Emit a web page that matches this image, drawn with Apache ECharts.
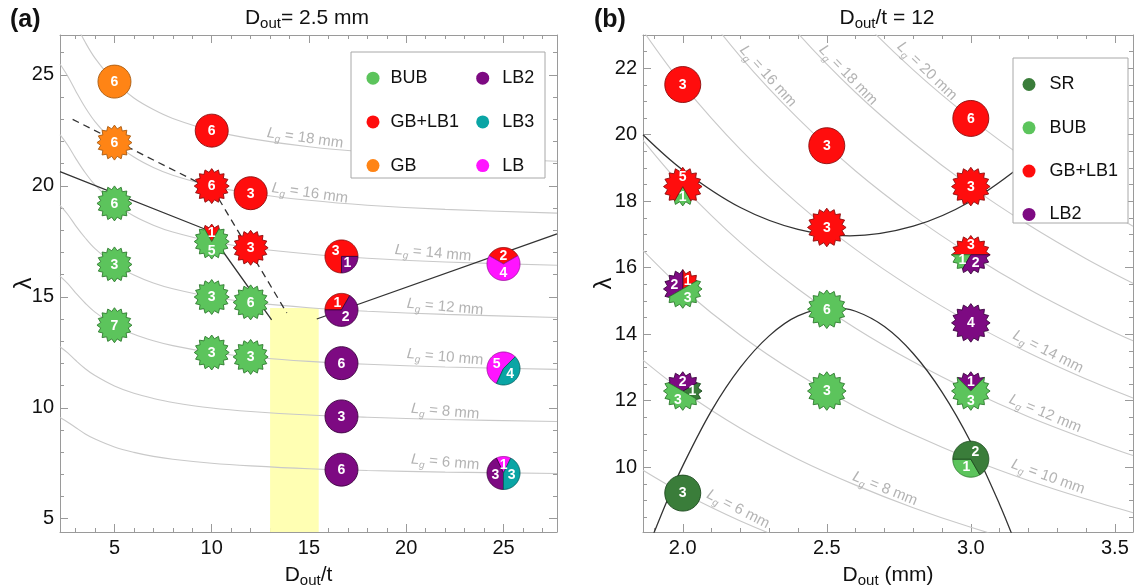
<!DOCTYPE html>
<html><head><meta charset="utf-8">
<script src="https://cdn.jsdelivr.net/npm/echarts@6/dist/echarts.min.js"></script>
<style>html,body{margin:0;padding:0;background:#fff}#c{width:1137px;height:587px}</style>
</head><body><div id="c"></div>
<script>
// ================= DATA =================
// Panel (a): D_out = 2.5 mm, x = D_out/t
const aXMajor = [5, 10, 15, 20, 25];
const aYMajor = [5, 10, 15, 20, 25];
const aCurveX = [2.2, 2.6, 3, 3.5, 4, 5, 6, 7, 8, 10, 12, 15, 18, 22, 27.75];
const aCurveLg = [6, 8, 10, 12, 14, 16, 18];
const aCurveLg6  = [9.56, 9.35, 9.11, 8.82, 8.59, 8.23, 7.99, 7.81, 7.68, 7.50, 7.38, 7.25, 7.17, 7.10, 7.04];
const aCurveLg8  = [12.75, 12.47, 12.14, 11.76, 11.45, 10.98, 10.65, 10.42, 10.24, 9.99, 9.83, 9.67, 9.57, 9.47, 9.38];
const aCurveLg10 = [15.93, 15.59, 15.18, 14.71, 14.31, 13.72, 13.31, 13.02, 12.80, 12.49, 12.29, 12.09, 11.96, 11.84, 11.73];
const aCurveLg12 = [19.12, 18.71, 18.21, 17.65, 17.17, 16.46, 15.98, 15.62, 15.36, 14.99, 14.75, 14.51, 14.35, 14.21, 14.07];
const aCurveLg14 = [22.31, 21.83, 21.25, 20.59, 20.04, 19.21, 18.64, 18.23, 17.92, 17.49, 17.21, 16.93, 16.74, 16.57, 16.42];
const aCurveLg16 = [25.49, 24.94, 24.29, 23.53, 22.90, 21.95, 21.30, 20.83, 20.48, 19.99, 19.67, 19.35, 19.13, 18.94, 18.77];
const aCurveLg18 = [28.68, 28.06, 27.32, 26.47, 25.76, 24.70, 23.96, 23.44, 23.04, 22.49, 22.13, 21.76, 21.52, 21.31, 21.11];
const aBoundarySolid1 = [[2.2, 20.64], [9.8, 18.0], [13.08, 13.96]];
const aBoundarySolid2 = [[15.4, 14.0], [27.75, 17.84]];
const aBoundaryDashed = [[2.85, 23.0], [10.1, 19.8], [13.86, 14.27]];
const aShadeX = [13, 15.5];
const aShadeTop = 14.5;
// markers: [x, lambda, shape, categories, counts]
const aMarkers = [
  [5, 24.70, 'circle', ['GB'], [6]],
  [5, 21.95, 'star', ['GB'], [6]],
  [5, 19.21, 'star', ['BUB'], [6]],
  [5, 16.46, 'star', ['BUB'], [3]],
  [5, 13.72, 'star', ['BUB'], [7]],
  [10, 22.49, 'circle', ['GB+LB1'], [6]],
  [10, 19.99, 'star', ['GB+LB1'], [6]],
  [10, 17.49, 'star', ['GB+LB1', 'BUB'], [1, 5]],
  [10, 14.99, 'star', ['BUB'], [3]],
  [10, 12.49, 'star', ['BUB'], [3]],
  [12, 19.67, 'circle', ['GB+LB1'], [3]],
  [12, 17.21, 'star', ['GB+LB1'], [3]],
  [12, 14.75, 'star', ['BUB'], [6]],
  [12, 12.29, 'star', ['BUB'], [3]],
  [16.67, 16.82, 'circle', ['GB+LB1', 'LB2'], [3, 1]],
  [16.67, 14.41, 'circle', ['GB+LB1', 'LB2'], [1, 2]],
  [16.67, 12.01, 'circle', ['LB2'], [6]],
  [16.67, 9.61, 'circle', ['LB2'], [3]],
  [16.67, 7.21, 'circle', ['LB2'], [6]],
  [25, 16.48, 'circle', ['GB+LB1', 'LB'], [2, 4]],
  [25, 11.77, 'circle', ['LB', 'LB3'], [5, 4]],
  [25, 7.06, 'circle', ['LB', 'LB2', 'LB3'], [1, 3, 3]]
];
const aLgLabelPos = [[22.0, 7.54], [22.0, 9.83], [22.0, 12.28], [22.0, 14.54], [21.38, 16.97], [15.05, 19.67], [14.8, 22.15]];
const aLgLabelVal = ['6', '8', '10', '12', '14', '16', '18'];
const aLegendCol1 = ['BUB', 'GB+LB1', 'GB'];
const aLegendCol2 = ['LB2', 'LB3', 'LB'];

// Panel (b): D_out/t = 12, x = D_out (mm)
const bXMajor = [2.0, 2.5, 3.0, 3.5];
const bYMajor = [10, 12, 14, 16, 18, 20, 22];
const bCurveX = [1.862, 2.0, 2.2, 2.4, 2.6, 2.8, 3.0, 3.2, 3.4, 3.563];
const bCurveLg = [6, 8, 10, 12, 14, 16, 18, 20];
const bCurveLg6  = [9.91, 9.22, 8.38, 7.68, 7.09, 6.59, 6.15, 5.76, 5.42, 5.18];
const bCurveLg8  = [13.22, 12.29, 11.17, 10.24, 9.46, 8.78, 8.19, 7.68, 7.23, 6.90];
const bCurveLg10 = [16.52, 15.36, 13.97, 12.80, 11.82, 10.98, 10.24, 9.60, 9.04, 8.63];
const bCurveLg12 = [19.83, 18.44, 16.76, 15.36, 14.18, 13.17, 12.29, 11.52, 10.85, 10.35];
const bCurveLg14 = [23.13, 21.51, 19.56, 17.93, 16.55, 15.37, 14.34, 13.44, 12.65, 12.08];
const bCurveLg16 = [26.43, 24.58, 22.35, 20.49, 18.91, 17.56, 16.39, 15.36, 14.46, 13.80];
const bCurveLg18 = [29.74, 27.66, 25.14, 23.05, 21.27, 19.76, 18.44, 17.29, 16.27, 15.53];
const bCurveLg20 = [33.04, 30.73, 27.94, 25.61, 23.64, 21.95, 20.49, 19.21, 18.08, 17.25];
const bUpperX = [1.862, 2.0, 2.2, 2.4, 2.58, 2.8, 3.0, 3.2];
const bUpperY = [20.00, 18.94, 17.81, 17.15, 16.96, 17.25, 18.00, 19.23];
const bLowerX = [1.88, 1.95, 2.0, 2.1, 2.2, 2.3, 2.4, 2.52, 2.6, 2.7, 2.8, 2.9, 3.0, 3.1, 3.16];
const bLowerY = [7.59, 9.08, 10.04, 11.70, 13.00, 13.95, 14.55, 14.80, 14.69, 14.23, 13.42, 12.26, 10.75, 8.88, 7.59];
const bMarkers = [
  [2.0, 21.51, 'circle', ['GB+LB1'], [3]],
  [2.0, 18.44, 'star', ['BUB', 'GB+LB1'], [1, 5]],
  [2.0, 15.36, 'star', ['GB+LB1', 'LB2', 'BUB'], [1, 2, 3]],
  [2.0, 12.29, 'star', ['SR', 'LB2', 'BUB'], [1, 2, 3]],
  [2.0, 9.22, 'circle', ['SR'], [3]],
  [2.5, 19.67, 'circle', ['GB+LB1'], [3]],
  [2.5, 17.21, 'star', ['GB+LB1'], [3]],
  [2.5, 14.75, 'star', ['BUB'], [6]],
  [2.5, 12.29, 'star', ['BUB'], [3]],
  [3.0, 20.49, 'circle', ['GB+LB1'], [6]],
  [3.0, 18.44, 'star', ['GB+LB1'], [3]],
  [3.0, 16.39, 'star', ['GB+LB1', 'BUB', 'LB2'], [3, 1, 2]],
  [3.0, 14.34, 'star', ['LB2'], [4]],
  [3.0, 12.29, 'star', ['LB2', 'BUB'], [1, 3]],
  [3.0, 10.24, 'circle', ['BUB', 'SR'], [1, 2]]
];
const bLgLabelPos = [[2.192, 8.74], [2.702, 9.35], [3.268, 9.71], [3.258, 11.61], [3.268, 13.47], [2.296, 21.76], [2.574, 21.79], [2.848, 21.91]];
const bLgLabelVal = ['6', '8', '10', '12', '14', '16', '18', '20'];
const bLegendItems = ['SR', 'BUB', 'GB+LB1', 'LB2'];

// ================= STYLE =================
const FONT = '"Liberation Sans", Arial, Helvetica, sans-serif';
const catColor = {'BUB': '#5cc45c', 'GB+LB1': '#ff0d0d', 'GB': '#ff8415', 'LB2': '#7d0a82', 'LB3': '#0aa5a5', 'LB': '#ff14ff', 'SR': '#3a7d3a'};
const catEdge = {'BUB': '#2f7a2f', 'GB+LB1': '#8c0c0c', 'GB': '#a85a10', 'LB2': '#3c0440', 'LB3': '#066060', 'LB': '#a010a0', 'SR': '#1d4a1f'};
const aMarkerStart = [0, 0, 0, 0, 0, 0, 0, 60, 0, 0, 0, 0, 0, 0, 0, 60, 0, 0, 0, 30, 45, 64];
const bMarkerStart = [0, 240, 30, -30, 0, 0, 0, 0, 0, 0, 0, 0, 0, 45, 180];
const aLgLabelRot = [-5, -5, -5, -5, -5, -8, -8];
const bLgLabelRot = [-27, -22, -20, -23, -27, -48, -46, -44];
const aSize = {circR: 16.5, starR: 17.5, starRi: 14.0, font: 14};
const bSize = {circR: 18, starR: 19.3, starRi: 15.5, font: 14};
const AX = '#9a9a9a';
const CURVE = '#c9c9c9';
const LBL = '#a0a0a0';

// ================= HELPERS =================
function minorList(lo, hi, step, majors) {
  const out = [];
  for (let v = lo; v <= hi + 1e-9; v += step) {
    const r = Math.round(v * 100) / 100;
    if (!majors.some(m => Math.abs(m - r) < 1e-6)) out.push(r);
  }
  return out;
}
const subRich = {
  m: {fontSize: 21, color: '#111', lineHeight: 26, fontFamily: FONT, fontWeight: 'normal'},
  s: {fontSize: 15, color: '#111', lineHeight: 12, verticalAlign: 'bottom', fontFamily: FONT, fontWeight: 'normal'}
};
function makeXAxes(gi, min, max, majors, minors, fmt, name, nameGap) {
  const base = {gridIndex: gi, type: 'value', min: min, max: max, splitLine: {show: false}};
  return [
    Object.assign({}, base, {position: 'bottom',
      axisLine: {show: true, onZero: false, lineStyle: {color: AX, width: 1}},
      axisTick: {show: true, inside: true, length: 8, customValues: majors, lineStyle: {color: AX}},
      axisLabel: {show: true, customValues: majors, formatter: fmt, fontSize: 20, color: '#111', margin: 6, fontFamily: FONT},
      name: name, nameLocation: 'middle', nameGap: nameGap, nameMoveOverlap: false,
      nameTextStyle: {fontFamily: FONT, color: '#111', rich: subRich}}),
    Object.assign({}, base, {position: 'bottom',
      axisLine: {show: false, onZero: false},
      axisTick: {show: true, inside: true, length: 4, customValues: minors, lineStyle: {color: AX}},
      axisLabel: {show: false}}),
    Object.assign({}, base, {position: 'top',
      axisLine: {show: true, onZero: false, lineStyle: {color: AX, width: 1}},
      axisTick: {show: true, inside: true, length: 8, customValues: majors, lineStyle: {color: AX}},
      axisLabel: {show: false}}),
    Object.assign({}, base, {position: 'top',
      axisLine: {show: false, onZero: false},
      axisTick: {show: true, inside: true, length: 4, customValues: minors, lineStyle: {color: AX}},
      axisLabel: {show: false}})
  ];
}
function makeYAxes(gi, min, max, majors, minors, nameGap) {
  const base = {gridIndex: gi, type: 'value', min: min, max: max, splitLine: {show: false}};
  return [
    Object.assign({}, base, {position: 'left',
      axisLine: {show: true, onZero: false, lineStyle: {color: AX, width: 1}},
      axisTick: {show: true, inside: true, length: 8, customValues: majors, lineStyle: {color: AX}},
      axisLabel: {show: true, customValues: majors, fontSize: 20, color: '#111', margin: 6, fontFamily: FONT},
      name: 'λ', nameLocation: 'middle', nameGap: nameGap, nameMoveOverlap: false,
      nameTextStyle: {fontSize: 24, color: '#111', fontFamily: FONT}}),
    Object.assign({}, base, {position: 'left',
      axisLine: {show: false, onZero: false},
      axisTick: {show: true, inside: true, length: 4, customValues: minors, lineStyle: {color: AX}},
      axisLabel: {show: false}}),
    Object.assign({}, base, {position: 'right',
      axisLine: {show: true, onZero: false, lineStyle: {color: AX, width: 1}},
      axisTick: {show: true, inside: true, length: 8, customValues: majors, lineStyle: {color: AX}},
      axisLabel: {show: false}}),
    Object.assign({}, base, {position: 'right',
      axisLine: {show: false, onZero: false},
      axisTick: {show: true, inside: true, length: 4, customValues: minors, lineStyle: {color: AX}},
      axisLabel: {show: false}})
  ];
}
function curveSeries(xs, ys, xi, yi) {
  return {type: 'line', xAxisIndex: xi, yAxisIndex: yi, data: xs.map((x, i) => [x, ys[i]]),
    smooth: 0.35, showSymbol: false, symbol: 'none', silent: true, z: 2, clip: true,
    lineStyle: {color: CURVE, width: 1.1}};
}
function blackSeries(pts, xi, yi, dashed, smooth) {
  return {type: 'line', xAxisIndex: xi, yAxisIndex: yi, data: pts, smooth: smooth ? 0.35 : false,
    showSymbol: false, symbol: 'none', silent: true, z: 3, clip: true,
    lineStyle: {color: '#333', width: 1.3, type: dashed ? [7, 5] : 'solid'}};
}
function labelSeries(pos, vals, rots, xi, yi) {
  return {type: 'scatter', xAxisIndex: xi, yAxisIndex: yi, symbolSize: 0, silent: true, z: 4,
    itemStyle: {color: 'rgba(0,0,0,0)'},
    data: pos.map((p, i) => ({value: [p[0], p[1]], label: {rotate: rots[i]}})),
    label: {show: true, position: 'inside', color: LBL,
      formatter: p => '{i|L}{s|g}{t| = ' + vals[p.dataIndex] + ' mm}',
      rich: {
        i: {fontSize: 15, fontStyle: 'italic', color: LBL, lineHeight: 20, fontFamily: FONT},
        s: {fontSize: 10, fontStyle: 'italic', color: LBL, lineHeight: 10, verticalAlign: 'bottom', fontFamily: FONT},
        t: {fontSize: 15, color: LBL, lineHeight: 20, fontFamily: FONT}}}};
}
function markerSeries(markers, starts, sz, xi, yi) {
  const N = 16, phi0 = Math.PI / 2, step = Math.PI / N;
  return {
    type: 'custom', xAxisIndex: xi, yAxisIndex: yi, z: 5, silent: true,
    data: markers.map(m => [m[0], m[1]]),
    encode: {x: 0, y: 1},
    renderItem: function (params, api) {
      const m = markers[params.dataIndex];
      const c = api.coord([api.value(0), api.value(1)]);
      const shape = m[2], cats = m[3], counts = m[4];
      const isStar = shape === 'star';
      const R = isStar ? sz.starR : sz.circR, Ri = sz.starRi;
      const total = counts.reduce((a, b) => a + b, 0);
      const pt = (t, r) => [c[0] + r * Math.cos(t), c[1] - r * Math.sin(t)];
      const vertR = k => ((((k % 2) + 2) % 2) === 0 ? R : Ri);
      function boundary(theta) {
        if (!isStar) return pt(theta, R);
        const k = Math.floor((theta - phi0) / step);
        const a = phi0 + k * step, b = a + step;
        const ra = vertR(k), rb = vertR(k + 1);
        const A = [ra * Math.cos(a), ra * Math.sin(a)], B = [rb * Math.cos(b), rb * Math.sin(b)];
        const d = [Math.cos(theta), Math.sin(theta)];
        const BA = [B[0] - A[0], B[1] - A[1]];
        const cr = (u, v) => u[0] * v[1] - u[1] * v[0];
        const s = cr(A, d) / cr(d, BA);
        const P = [A[0] + s * BA[0], A[1] + s * BA[1]];
        return [c[0] + P[0], c[1] - P[1]];
      }
      function inner(t1, t2) {
        const pts = [];
        if (!isStar) {
          const n = Math.max(2, Math.ceil((t2 - t1) / (Math.PI / 90)));
          for (let j = 1; j < n; j++) pts.push(pt(t1 + (t2 - t1) * j / n, R));
          return pts;
        }
        let k = Math.floor((t1 - phi0) / step);
        for (; ; k++) {
          const a = phi0 + k * step;
          if (a >= t2 - 1e-9) break;
          if (a <= t1 + 1e-9) continue;
          pts.push(pt(a, vertR(k)));
        }
        return pts;
      }
      const children = [];
      const texts = [];
      const fontStr = 'bold ' + sz.font + 'px ' + FONT;
      if (cats.length === 1) {
        const col = catColor[cats[0]], edge = catEdge[cats[0]];
        if (isStar) {
          const pts = [];
          for (let k = 0; k < 2 * N; k++) pts.push(pt(phi0 + k * step, vertR(k)));
          children.push({type: 'polygon', shape: {points: pts}, style: {fill: col, stroke: edge, lineWidth: 0.9}});
        } else {
          children.push({type: 'circle', shape: {cx: c[0], cy: c[1], r: R}, style: {fill: col, stroke: edge, lineWidth: 0.9}});
        }
        texts.push({type: 'text', x: c[0], y: c[1] + 0.5, style: {text: String(counts[0]), fill: '#fff', font: fontStr, align: 'center', verticalAlign: 'middle'}});
      } else {
        let t = starts[params.dataIndex] * Math.PI / 180;
        cats.forEach((cat, j) => {
          const span = 2 * Math.PI * counts[j] / total;
          const t1 = t, t2 = t + span;
          const pts = [[c[0], c[1]], boundary(t1)].concat(inner(t1, t2), [boundary(t2)]);
          children.push({type: 'polygon', shape: {points: pts}, style: {fill: catColor[cat], stroke: catEdge[cat], lineWidth: 0.9}});
          const mid = (t1 + t2) / 2;
          const lp = pt(mid, R * 0.5);
          texts.push({type: 'text', x: lp[0], y: lp[1] + 0.5, style: {text: String(counts[j]), fill: '#fff', font: fontStr, align: 'center', verticalAlign: 'middle'}});
          t = t2;
        });
      }
      return {type: 'group', children: children.concat(texts)};
    }
  };
}

// ================= BUILD =================
const aXMinor = minorList(3, 27, 1, aXMajor);
const aYMinor = minorList(5, 26, 1, aYMajor);
const bXMinor = minorList(1.9, 3.5, 0.1, bXMajor);
const bYMinor = minorList(8.5, 23, 0.5, bYMajor);

const xAxes = makeXAxes(0, 2.2, 27.75, aXMajor, aXMinor, v => String(v), '{m|D}{s|out}{m|/t}', 30)
  .concat(makeXAxes(1, 1.862, 3.563, bXMajor, bXMinor, v => v.toFixed(1), '{m|D}{s|out}{m| (mm)}', 30));
const yAxes = makeYAxes(0, 4.4, 26.8, aYMajor, aYMinor, 24)
  .concat(makeYAxes(1, 8.05, 23.0, bYMajor, bYMinor, 27));

const series = [];
// yellow band (panel a)
series.push({type: 'line', xAxisIndex: 0, yAxisIndex: 0, data: [], silent: true, z: 1,
  markArea: {silent: true, itemStyle: {color: '#ffffb3', opacity: 1},
    data: [[{xAxis: aShadeX[0], yAxis: 4.4}, {xAxis: aShadeX[1], yAxis: aShadeTop}]]}});
[aCurveLg6, aCurveLg8, aCurveLg10, aCurveLg12, aCurveLg14, aCurveLg16, aCurveLg18].forEach(ys => series.push(curveSeries(aCurveX, ys, 0, 0)));
[bCurveLg6, bCurveLg8, bCurveLg10, bCurveLg12, bCurveLg14, bCurveLg16, bCurveLg18, bCurveLg20].forEach(ys => series.push(curveSeries(bCurveX, ys, 4, 4)));
series.push(blackSeries(aBoundarySolid1, 0, 0, false, false));
series.push(blackSeries(aBoundarySolid2, 0, 0, false, false));
series.push(blackSeries(aBoundaryDashed, 0, 0, true, false));
series.push(blackSeries(bUpperX.map((x, i) => [x, bUpperY[i]]), 4, 4, false, true));
series.push(blackSeries(bLowerX.map((x, i) => [x, bLowerY[i]]), 4, 4, false, true));
series.push(labelSeries(aLgLabelPos, aLgLabelVal, aLgLabelRot, 0, 0));
series.push(labelSeries(bLgLabelPos, bLgLabelVal, bLgLabelRot, 4, 4));
series.push(markerSeries(aMarkers, aMarkerStart, aSize, 0, 0));
series.push(markerSeries(bMarkers, bMarkerStart, bSize, 4, 4));
['SR', 'BUB', 'GB+LB1', 'GB', 'LB2', 'LB3', 'LB'].forEach(n => series.push({
  type: 'scatter', name: n, xAxisIndex: 0, yAxisIndex: 0, data: [], itemStyle: {color: catColor[n], opacity: 1}}));

const legendBase = {orient: 'vertical', padding: 0, itemWidth: 13, itemHeight: 13, icon: 'circle',
  selectedMode: false, z: 20, zlevel: 0, itemStyle: {opacity: 1}};
const option = {
  animation: false,
  backgroundColor: '#fff',
  textStyle: {fontFamily: FONT},
  title: [
    {text: '(a)', left: 10, top: 8, padding: 0, textStyle: {fontSize: 25, fontWeight: 'bold', color: '#111', fontFamily: FONT}},
    {text: '{m|D}{s|out}{m|= 2.5 mm}', left: 307, top: 5, padding: 0, textAlign: 'center',
      textStyle: {fontWeight: 'normal', rich: subRich}},
    {text: '(b)', left: 594, top: 8, padding: 0, textStyle: {fontSize: 25, fontWeight: 'bold', color: '#111', fontFamily: FONT}},
    {text: '{m|D}{s|out}{m|/t = 12}', left: 887, top: 5, padding: 0, textAlign: 'center',
      textStyle: {fontWeight: 'normal', rich: subRich}}
  ],
  grid: [
    {left: 60, top: 35, width: 497, height: 497, containLabel: false, outerBoundsMode: 'none'},
    {left: 643, top: 35, width: 490, height: 497, containLabel: false, outerBoundsMode: 'none'}
  ],
  xAxis: xAxes,
  yAxis: yAxes,
  legend: [
    Object.assign({}, legendBase, {data: aLegendCol1, left: 366.5, top: 69.2, itemGap: 25.7,
      textStyle: {fontSize: 18, color: '#111', fontFamily: FONT, lineHeight: 13, padding: [0, 0, 0, 6]}}),
    Object.assign({}, legendBase, {data: aLegendCol2, left: 476.2, top: 69.2, itemGap: 25.7,
      textStyle: {fontSize: 18, color: '#111', fontFamily: FONT, lineHeight: 13, padding: [0, 0, 0, 8]}}),
    Object.assign({}, legendBase, {data: bLegendItems, left: 1022.5, top: 75.5, itemGap: 25.3,
      textStyle: {fontSize: 18, color: '#111', fontFamily: FONT, lineHeight: 13, padding: [0, 0, 0, 9]}})
  ],
  graphic: [
    {type: 'rect', z: 15, zlevel: 0, silent: true, shape: {x: 351, y: 52, width: 194, height: 126},
      style: {fill: '#fff', stroke: '#a8a8a8', lineWidth: 1}},
    {type: 'rect', z: 15, zlevel: 0, silent: true, shape: {x: 1013, y: 58, width: 115, height: 165},
      style: {fill: '#fff', stroke: '#a8a8a8', lineWidth: 1}}
  ],
  series: series
};
const chart = echarts.init(document.getElementById('c'), null, {renderer: 'canvas', width: 1137, height: 587});
chart.setOption(option);
</script>
</body></html>
